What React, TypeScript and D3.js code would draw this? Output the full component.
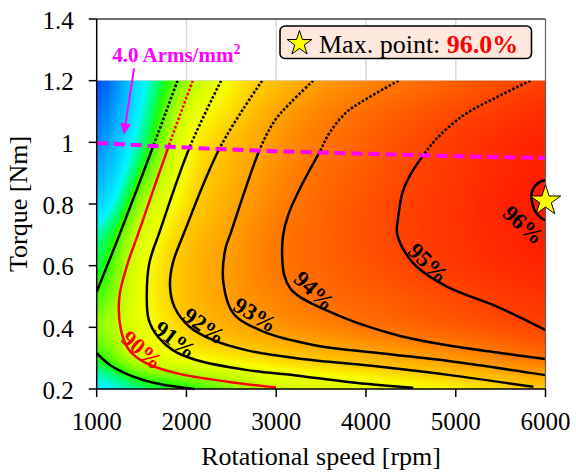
import React, { useMemo } from 'react';
import * as d3 from 'd3';

// ---------- data ----------
const speedGrid = [1000, 1500, 2000, 2500, 3000, 3500, 4000, 4500, 5000, 5500, 6000];
const torqueGrid = [0.2, 0.3, 0.4, 0.5, 0.6, 0.7, 0.8, 0.9, 1.0, 1.1, 1.2];
// efficiency [%], one row per torque (0.2 ... 1.2), columns follow speedGrid
const efficiencyGrid = [
  [85.5, 87.0, 87.8, 88.9, 90.0, 90.33, 90.65, 90.98, 91.35, 91.72, 92.1],
  [87.7, 90.02, 90.9, 91.38, 91.81, 92.18, 92.51, 92.84, 93.21, 93.63, 94.04],
  [88.9, 90.65, 91.9, 92.62, 93.17, 93.56, 93.95, 94.23, 94.49, 94.75, 95.0],
  [88.1, 90.81, 92.26, 93.05, 93.67, 94.12, 94.39, 94.65, 94.91, 95.2, 95.45],
  [87.3, 90.66, 92.27, 93.12, 93.9, 94.3, 94.64, 94.99, 95.3, 95.58, 95.8],
  [86.5, 90.18, 92.04, 93.02, 93.87, 94.33, 94.73, 95.1, 95.42, 95.72, 95.95],
  [84.5, 89.2, 91.6, 92.78, 93.67, 94.26, 94.68, 95.08, 95.42, 95.8, 96.05],
  [83.0, 87.9, 91.21, 92.52, 93.44, 94.12, 94.54, 94.97, 95.35, 95.7, 95.92],
  [82.0, 86.8, 90.79, 92.22, 93.21, 93.94, 94.4, 94.83, 95.23, 95.6, 95.85],
  [81.0, 86.0, 90.19, 91.67, 92.83, 93.6, 94.15, 94.52, 94.88, 95.24, 95.55],
  [80.0, 85.5, 89.2, 91.24, 92.27, 93.09, 93.62, 94.09, 94.43, 94.77, 95.12],
];

const xTicks = [1000, 2000, 3000, 4000, 5000, 6000];
const yTicks = [0.2, 0.4, 0.6, 0.8, 1.0, 1.2, 1.4];

// current density limit (4.0 Arms/mm^2)
const limitSpeed = [1000, 2000, 3000, 4000, 5000, 6000];
const limitTorque = [0.998, 0.983, 0.971, 0.963, 0.955, 0.949];

// contour lines [speed rpm, torque Nm]
const contour88Upper: [number, number][] = [[1900, 1.2], [1642, 0.997], [1252, 0.699], [1000, 0.515]];
const contour88Lower: [number, number][] = [[1000, 0.316], [1148, 0.278], [1408, 0.24], [1669, 0.218], [2090, 0.2]];
const contour90: [number, number][] = [[2070, 1.2], [1803, 0.989], [1457, 0.699], [1346, 0.608], [1252, 0.498], [1271, 0.391], [1363, 0.326], [1550, 0.284], [1921, 0.249], [2478, 0.223], [2999, 0.205]];
const contour91: [number, number][] = [[2386, 1.2], [2033, 0.982], [1700, 0.709], [1586, 0.608], [1558, 0.499], [1580, 0.424], [1680, 0.37], [1847, 0.326], [2107, 0.294], [2665, 0.262], [3222, 0.244], [3824, 0.222], [4527, 0.204]];
const contour92: [number, number][] = [[2843, 1.2], [2375, 0.984], [1977, 0.709], [1847, 0.607], [1817, 0.532], [1865, 0.467], [2033, 0.402], [2293, 0.359], [2665, 0.326], [3222, 0.3], [4159, 0.272], [4939, 0.245], [5865, 0.207]];
const contour93: [number, number][] = [[3412, 1.2], [3155, 1.127], [2988, 1.072], [2821, 0.98], [2497, 0.709], [2431, 0.651], [2412, 0.543], [2523, 0.445], [2858, 0.386], [3415, 0.343], [4159, 0.316], [4939, 0.29], [6000, 0.245]];
const contour94: [number, number][] = [[4363, 1.2], [4011, 1.142], [3788, 1.099], [3601, 1.034], [3482, 0.968], [3267, 0.852], [3133, 0.764], [3077, 0.699], [3066, 0.634], [3088, 0.57], [3155, 0.527], [3267, 0.498], [3434, 0.472], [3657, 0.443], [3936, 0.411], [4382, 0.372], [4939, 0.34], [5497, 0.317], [6000, 0.297]];
const contour95: [number, number][] = [[5831, 1.2], [5460, 1.147], [5088, 1.088], [4791, 1.013], [4624, 0.952], [4493, 0.894], [4410, 0.84], [4360, 0.76], [4346, 0.705], [4420, 0.651], [4560, 0.598], [4902, 0.532], [5460, 0.467], [6000, 0.391]];
const contour96: [number, number][] = [[6000, 0.877], [5933, 0.871], [5855, 0.845], [5844, 0.819], [5877, 0.78], [5955, 0.754], [6000, 0.748]];

const contourLines = [contour88Upper, contour88Lower, contour90, contour91, contour92, contour93, contour94, contour95, contour96];
const contourLevels = [88, 88, 90, 91, 92, 93, 94, 95, 96];

const labelText = ['90%', '91%', '92%', '93%', '94%', '95%', '96%'];
const labelSpeed = [1505, 1873, 2197, 2765, 3423, 4694, 5754];
const labelTorque = [0.326, 0.359, 0.404, 0.44, 0.518, 0.608, 0.732];
const labelAngle = [41, 37, 35, 31, 43, 44, 42];

const maxSpeed = 6000;
const maxTorque = 0.81;
const maxEff = 96.0;

const colorStops = [80, 83, 85.8, 87.0, 87.8, 88.6, 89.4, 90.2, 91.1, 92.0, 93.0, 94.0, 95.0, 96.1];
const colorValues = ['#0050ff', '#00a8ff', '#00f8ff', '#00ff70', '#20ff00', '#70ff00', '#b0ff00', '#d8ff00', '#f8ff00', '#ffca00', '#ffa000', '#ff7400', '#ff4400', '#ff1800'];

// ---------- layout ----------
const W = 576, H = 475;
const xScale = d3.scaleLinear().domain([1000, 6000]).range([96.7, 545.5]);
const yScale = d3.scaleLinear().domain([0.2, 1.4]).range([389, 19]);
const FONT = "'Liberation Serif', 'Times New Roman', Times, serif";
const tf = { fontFamily: FONT } as React.CSSProperties;

function cubic(p0: number, p1: number, p2: number, p3: number, t: number) {
  return p1 + 0.5 * t * (p2 - p0 + t * (2 * p0 - 5 * p1 + 4 * p2 - p3 + t * (3 * (p1 - p2) + p3 - p0)));
}
function fieldAt(s: number, tq: number) {
  const nx = speedGrid.length, ny = torqueGrid.length;
  const gx = ((s - speedGrid[0]) / (speedGrid[nx - 1] - speedGrid[0])) * (nx - 1);
  const gy = ((tq - torqueGrid[0]) / (torqueGrid[ny - 1] - torqueGrid[0])) * (ny - 1);
  const ix = Math.max(0, Math.min(nx - 2, Math.floor(gx)));
  const iy = Math.max(0, Math.min(ny - 2, Math.floor(gy)));
  const fx = gx - ix, fy = gy - iy;
  const cl = (v: number, n: number) => Math.max(0, Math.min(n - 1, v));
  const rows: number[] = [];
  for (let k = -1; k <= 2; k++) {
    const r = efficiencyGrid[cl(iy + k, ny)];
    rows.push(cubic(r[cl(ix - 1, nx)], r[cl(ix, nx)], r[cl(ix + 1, nx)], r[cl(ix + 2, nx)], fx));
  }
  return cubic(rows[0], rows[1], rows[2], rows[3], fy);
}

export default function App() {
  const x0 = xScale(1000), x1 = xScale(6000), yTop = yScale(1.2), yBot = yScale(0.2);

  const heatUrl = useMemo(() => {
    const w = Math.round(x1 - x0), h = Math.round(yBot - yTop);
    const canvas = document.createElement('canvas');
    canvas.width = w; canvas.height = h;
    const ctx = canvas.getContext('2d');
    if (!ctx) return '';
    const color = d3.scaleLinear<string>().domain(colorStops).range(colorValues).interpolate(d3.interpolateRgb).clamp(true);
    const lutN = 1000, lo = 78, hi = 98;
    const lut: number[][] = [];
    for (let i = 0; i <= lutN; i++) {
      const c = d3.rgb(color(lo + (hi - lo) * i / lutN));
      lut.push([c.r, c.g, c.b]);
    }
    const img = ctx.createImageData(w, h);
    for (let j = 0; j < h; j++) {
      const tq = yScale.invert(yTop + (j + 0.5) * (yBot - yTop) / h);
      for (let i = 0; i < w; i++) {
        const s = xScale.invert(x0 + (i + 0.5) * (x1 - x0) / w);
        const v = fieldAt(s, tq);
        const li = Math.max(0, Math.min(lutN, Math.round((v - lo) / (hi - lo) * lutN)));
        const c = lut[li];
        const p = (j * w + i) * 4;
        img.data[p] = c[0]; img.data[p + 1] = c[1]; img.data[p + 2] = c[2]; img.data[p + 3] = 255;
      }
    }
    ctx.putImageData(img, 0, 0);
    return canvas.toDataURL();
  }, []);

  const line = d3.line<[number, number]>().x(d => xScale(d[0])).y(d => yScale(d[1])).curve(d3.curveCatmullRom.alpha(0.5));
  const limitPts: [number, number][] = limitSpeed.map((s, i) => [xScale(s), yScale(limitTorque[i])]);
  const limitPath = d3.line<[number, number]>().x(d => d[0]).y(d => d[1]).curve(d3.curveMonotoneX)(limitPts) || '';
  const belowClip = limitPath + `L${x1},${yBot + 4}L${x0},${yBot + 4}Z`;
  const aboveClip = limitPath + `L${x1},${yTop}L${x0},${yTop}Z`;

  const mx = xScale(maxSpeed), my = yScale(maxTorque);
  const starBig = d3.symbol().type(d3.symbolStar).size(16 * 16 / 0.8908)() || '';
  const starSmall = d3.symbol().type(d3.symbolStar).size(13 * 13 / 0.8908)() || '';

  // annotation arrow (data coordinates)
  const arrowFrom = [1416, 1.24], arrowTo = [1305, 1.03];
  const annotPos = [1172, 1.262];

  return (
    <svg width={W} height={H} style={{ position: 'absolute', left: 0, top: 0, background: '#fff', fontFamily: FONT }}>
      <defs>
        <clipPath id="below"><path d={belowClip} /></clipPath>
        <clipPath id="above"><path d={aboveClip} /></clipPath>
        <marker id="arr" viewBox="0 0 10 10" refX="9" refY="5" markerWidth="11" markerHeight="11" markerUnits="userSpaceOnUse" orient="auto">
          <path d="M0,0L10,5L0,10Z" fill="#ff00ff" />
        </marker>
      </defs>
      <rect x={0} y={0} width={W} height={H} fill="#fff" />
      {/* grid */}
      {xTicks.slice(1, -1).map(t => (
        <line key={'gx' + t} x1={xScale(t)} x2={xScale(t)} y1={yScale(1.4)} y2={yScale(0.2)} stroke="#d9d9d9" strokeWidth={1.5} />
      ))}
      {yTicks.slice(1, -1).map(t => (
        <line key={'gy' + t} x1={x0} x2={x1} y1={yScale(t)} y2={yScale(t)} stroke="#d9d9d9" strokeWidth={1.5} />
      ))}
      {/* heatmap */}
      {heatUrl && <image href={heatUrl} x={x0} y={yTop} width={x1 - x0} height={yBot - yTop} preserveAspectRatio="none" />}
      {/* contours */}
      {contourLines.map((pts, i) => {
        const col = contourLevels[i] === 90 ? '#ff0000' : '#000';
        const d = line(pts) || '';
        return (
          <g key={'c' + i}>
            <path d={d} fill="none" stroke={col} strokeWidth={2.5} clipPath="url(#below)" />
            <path d={d} fill="none" stroke={col} strokeWidth={2.6} strokeDasharray="2.5 1.9" clipPath="url(#above)" />
          </g>
        );
      })}
      {/* labels */}
      {labelText.map((t, i) => (
        <text key={'l' + i} transform={`translate(${xScale(labelSpeed[i])},${yScale(labelTorque[i])}) rotate(${labelAngle[i]})`}
          textAnchor="middle" dominantBaseline="central" fontSize={23} fontWeight="bold" style={tf} fill={t === '90%' ? '#ff0000' : '#000'}>{t}</text>
      ))}
      {/* current limit */}
      <path d={limitPath} fill="none" stroke="#ff00ff" strokeWidth={4} strokeDasharray="11 6" />
      <line x1={xScale(arrowFrom[0])} y1={yScale(arrowFrom[1])} x2={xScale(arrowTo[0])} y2={yScale(arrowTo[1])} stroke="#ff00ff" strokeWidth={2} markerEnd="url(#arr)" />
      <text x={xScale(annotPos[0])} y={yScale(annotPos[1])} fontSize={21} fontWeight="bold" fill="#ff00ff" style={tf}>
        4.0 Arms/mm<tspan dy={-8} fontSize={14}>2</tspan>
      </text>
      {/* frame */}
      <line x1={x0} x2={x1} y1={yScale(1.4)} y2={yScale(1.4)} stroke="#404040" strokeWidth={1.5} />
      <line x1={x1} x2={x1} y1={yScale(1.4)} y2={yBot} stroke="#606060" strokeWidth={1.2} />
      {/* max point */}
      <path d={starBig} transform={`translate(${mx},${my})`} fill="#ffff00" stroke="#000" strokeWidth={1} />
      {/* axes */}
      <line x1={x0} x2={x0} y1={yScale(1.4)} y2={yBot} stroke="#000" strokeWidth={1.5} />
      <line x1={x0} x2={x1} y1={yBot} y2={yBot} stroke="#000" strokeWidth={1.5} />
      {yTicks.map(t => (
        <g key={'yt' + t}>
          <line x1={x0 - 8} x2={x0} y1={yScale(t)} y2={yScale(t)} stroke="#000" strokeWidth={1.5} />
          <text x={x0 - 23} y={yScale(t) + 1} textAnchor="end" dominantBaseline="central" fontSize={25} style={tf}>{d3.format('~g')(t)}</text>
        </g>
      ))}
      {xTicks.map(t => (
        <g key={'xt' + t}>
          <line x1={xScale(t)} x2={xScale(t)} y1={yBot} y2={yBot + 8} stroke="#000" strokeWidth={1.5} />
          <text x={xScale(t)} y={430} textAnchor="middle" fontSize={25} style={tf}>{t}</text>
        </g>
      ))}
      <text x={(x0 + x1) / 2} y={465} textAnchor="middle" fontSize={26} style={tf}>Rotational speed [rpm]</text>
      <text transform={`translate(27,${(yScale(1.4) + yBot) / 2}) rotate(-90)`} textAnchor="middle" fontSize={26} style={tf}>Torque [Nm]</text>
      {/* legend */}
      <g>
        <rect x={280} y={26} width={251.5} height={32.5} rx={5} fill="#fce8dc" stroke="#000" strokeWidth={1.6} />
        <path d={starSmall} transform="translate(299.5,43.5)" fill="#ffff00" stroke="#000" strokeWidth={1} />
        <text x={319} y={52.5} fontSize={26} style={tf}>Max. point: <tspan fontWeight="bold" fill="#ff0000">{maxEff.toFixed(1)}%</tspan></text>
      </g>
    </svg>
  );
}
